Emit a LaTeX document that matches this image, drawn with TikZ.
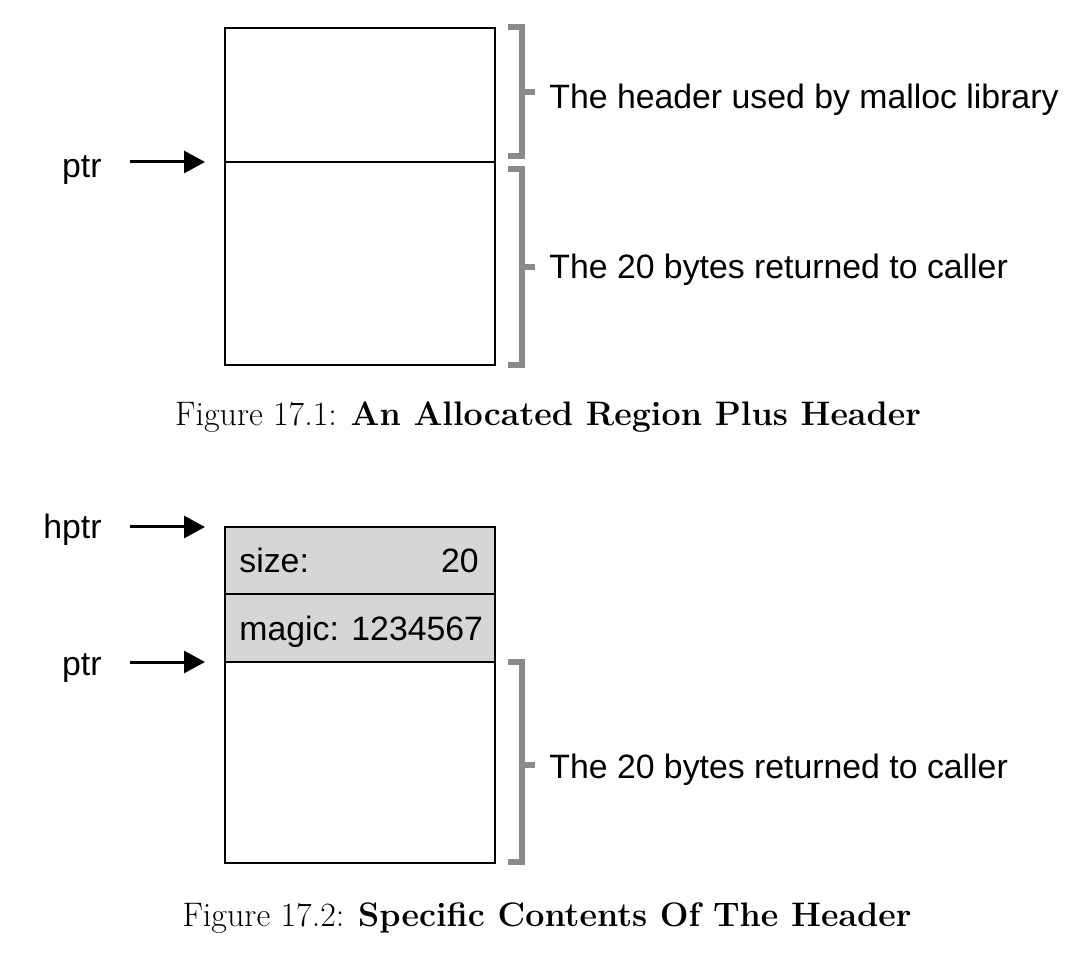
\documentclass[tikz,border=0pt]{standalone}
\usepackage{fontspec}
\newfontfamily\helv{Liberation Sans}
\usetikzlibrary{positioning,arrows.meta}

\definecolor{bracegray}{HTML}{8A8A8A}
\definecolor{cellgray}{HTML}{D6D6D6}

\tikzset{
  cell/.style={draw, line width=0.9pt, minimum width=135pt, inner sep=0pt, outer sep=0pt},
  lbl/.style={inner sep=0pt, font=\helv\fontsize{16.9}{20}\selectfont},
  ptrarrow/.style={line width=1.5pt, -{Triangle[length=10.5pt, width=11pt]}},
  brace/.style={draw=bracegray, line width=3pt, miter limit=10},
  caption/.style={inner sep=0pt, font=\fontsize{17}{21}\selectfont}
}

\begin{document}
\begin{tikzpicture}[x=0.5pt, y=-0.5pt]
  \useasboundingbox (0,0) rectangle (1091,961);

  % Figure 17.1
  \node[cell, minimum height=67pt, anchor=north west] (hdr1) at (225,28) {};
  \node[cell, minimum height=101.5pt, below=0pt of hdr1] (data1) {};
  \node[lbl, anchor=base east] (ptr1) at (102,178) {ptr};
  \draw[ptrarrow] ([xshift=14pt]ptr1.east |- data1.north west) -- ([xshift=-10pt]data1.north west);

  \draw[brace] (508,27) -- (522,27) -- (522,156) -- (508,156);
  \draw[brace] (522,92.5) -- (535,92.5);
  \node[lbl, anchor=base west] (hdrtxt) at (549,109) {The header used by malloc library};

  \draw[brace] (508,169.5) -- (522,169.5) -- (522,365) -- (508,365);
  \draw[brace] (522,267) -- (535,267);
  \node[lbl, anchor=base west] (bytes1) at (549,279) {The 20 bytes returned to caller};

  \node[caption, anchor=base] (cap1) at (548,426) {Figure 17.1: \textbf{An Allocated Region Plus Header}};

  % Figure 17.2
  \node[cell, fill=cellgray, minimum height=33.5pt, anchor=north west] (size2) at (225,527) {};
  \node[cell, fill=cellgray, minimum height=34pt, below=0pt of size2] (magic2) {};
  \node[cell, minimum height=100.5pt, below=0pt of magic2] (data2) {};

  \node[lbl, anchor=base west] (sizetxt) at (239,573) {size:};
  \node[lbl, anchor=base east] (sizeval) at (479,573) {20};
  \node[lbl, anchor=base west] (magictxt) at (239,640) {magic: 1234567};

  \node[lbl, anchor=base east] (hptr2) at (102,539) {hptr};
  \draw[ptrarrow] ([xshift=14pt]hptr2.east |- size2.north west) -- ([xshift=-10pt]size2.north west);
  \node[lbl, anchor=base east] (ptr2) at (102,675) {ptr};
  \draw[ptrarrow] ([xshift=14pt]ptr2.east |- data2.north west) -- ([xshift=-10pt]data2.north west);

  \draw[brace] (508,662) -- (522,662) -- (522,862) -- (508,862);
  \draw[brace] (522,765) -- (535,765);
  \node[lbl, anchor=base west] (bytes2) at (549,778) {The 20 bytes returned to caller};

  \node[caption, anchor=base] (cap2) at (547,926) {Figure 17.2: \textbf{Specific Contents Of The Header}};
\end{tikzpicture}
\end{document}
